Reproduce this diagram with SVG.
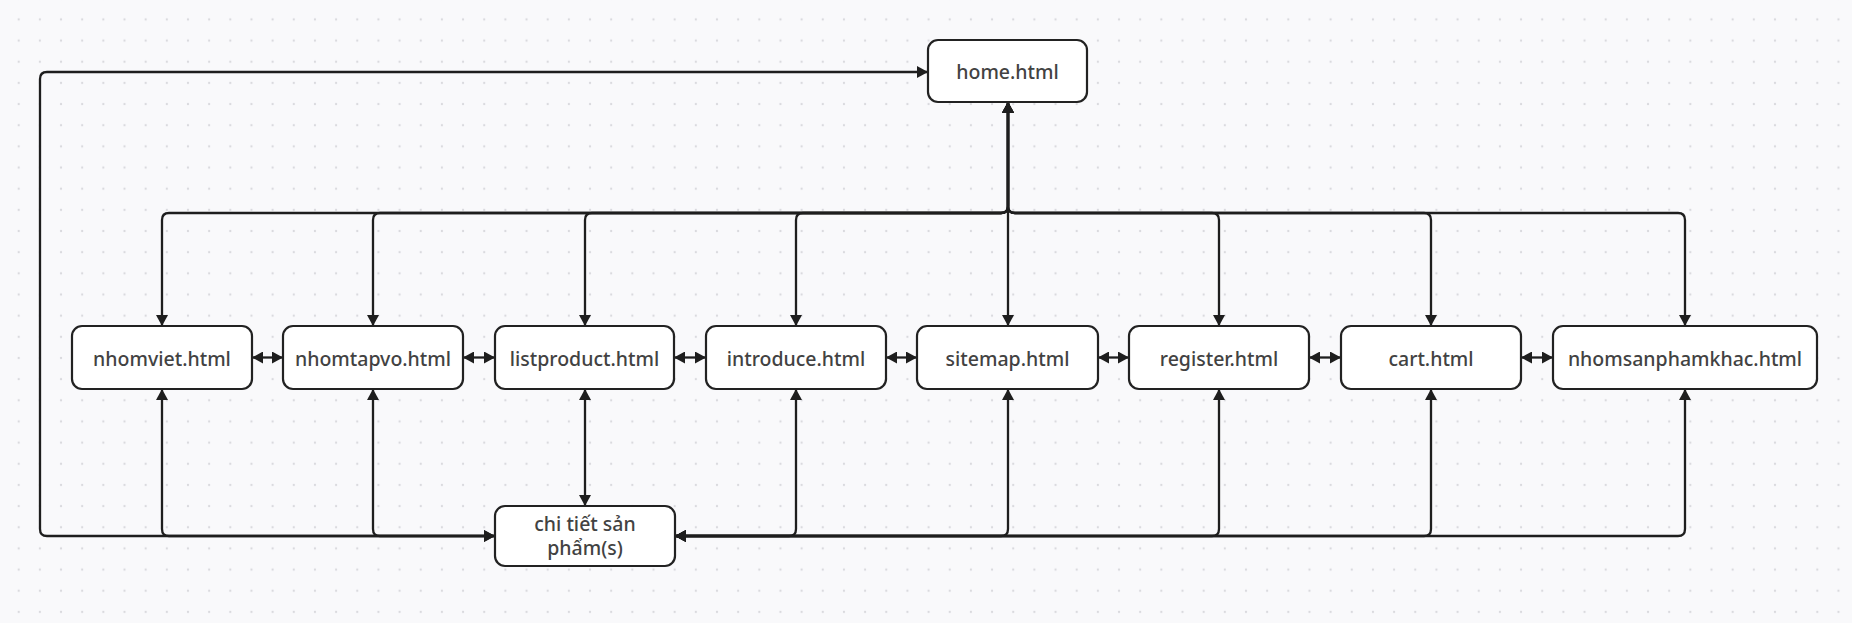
<svg xmlns="http://www.w3.org/2000/svg" width="1852" height="623" viewBox="0 0 1852 623">
  <defs>
    <pattern id="dots" x="18.7" y="19.4" width="21.16" height="21.16" patternUnits="userSpaceOnUse">
      <circle cx="0" cy="0" r="1.15" fill="#d9d9de"/>
      <circle cx="21.16" cy="0" r="1.15" fill="#d9d9de"/>
      <circle cx="0" cy="21.16" r="1.15" fill="#d9d9de"/>
      <circle cx="21.16" cy="21.16" r="1.15" fill="#d9d9de"/>
    </pattern>
    <marker id="arrow" viewBox="0 0 11 12" refX="11" refY="6" markerWidth="11" markerHeight="12" markerUnits="userSpaceOnUse" orient="auto-start-reverse">
      <path d="M0 0 L11 6 L0 12 z" fill="#1e1e1e"/>
    </marker>
    <style>
      .node rect { fill: #ffffff; stroke: #222222; stroke-width: 2.2; }
      .node text { font-family: "Noto Sans", "Open Sans", "DejaVu Sans", sans-serif; font-size: 19.5px; font-weight: 500; fill: #424242; text-anchor: middle; }
      .edge { fill: none; stroke: #1e1e1e; stroke-width: 2.3; stroke-linejoin: round; }
      .both { marker-start: url(#arrow); marker-end: url(#arrow); }
      .end { marker-end: url(#arrow); }
    </style>
  </defs>

  <!-- canvas -->
  <rect width="1852" height="623" fill="#f9f9fb"/>
  <rect width="1852" height="623" fill="url(#dots)"/>

  <!-- connectors -->
  <g id="connectors">
    <!-- home to each page (top bus) -->
    <path class="edge both" d="M1008 102 V206 Q1008 213 1001 213 H169 Q162 213 162 220 V326"/>
    <path class="edge both" d="M1008 102 V206 Q1008 213 1001 213 H380 Q373 213 373 220 V326"/>
    <path class="edge both" d="M1008 102 V206 Q1008 213 1001 213 H592 Q585 213 585 220 V326"/>
    <path class="edge both" d="M1008 102 V206 Q1008 213 1001 213 H803 Q796 213 796 220 V326"/>
    <path class="edge both" d="M1008 102 V326"/>
    <path class="edge both" d="M1008 102 V206 Q1008 213 1015 213 H1212 Q1219 213 1219 220 V326"/>
    <path class="edge both" d="M1008 102 V206 Q1008 213 1015 213 H1424 Q1431 213 1431 220 V326"/>
    <path class="edge both" d="M1008 102 V206 Q1008 213 1015 213 H1678 Q1685 213 1685 220 V326"/>

    <!-- neighbouring pages -->
    <path class="edge both" d="M252 357.5 H283"/>
    <path class="edge both" d="M463 357.5 H495"/>
    <path class="edge both" d="M674 357.5 H706"/>
    <path class="edge both" d="M886 357.5 H917"/>
    <path class="edge both" d="M1098 357.5 H1129"/>
    <path class="edge both" d="M1309 357.5 H1341"/>
    <path class="edge both" d="M1521 357.5 H1553"/>

    <!-- pages to product detail (bottom bus) -->
    <path class="edge both" d="M162 389 V529 Q162 536 169 536 H495"/>
    <path class="edge both" d="M373 389 V529 Q373 536 380 536 H495"/>
    <path class="edge both" d="M585 389 V506"/>
    <path class="edge both" d="M796 389 V529 Q796 536 789 536 H675"/>
    <path class="edge both" d="M1008 389 V529 Q1008 536 1001 536 H675"/>
    <path class="edge both" d="M1219 389 V529 Q1219 536 1212 536 H675"/>
    <path class="edge both" d="M1431 389 V529 Q1431 536 1424 536 H675"/>
    <path class="edge both" d="M1685 389 V529 Q1685 536 1678 536 H675"/>

    <!-- product detail back to home -->
    <path class="edge end" d="M495 536 H47 Q40 536 40 529 V79 Q40 72 47 72 H928"/>
  </g>

  <!-- nodes -->
  <g id="home" class="node">
    <rect x="928" y="40" width="159" height="62" rx="10"/>
    <text x="1007.5" y="79">home.html</text>
  </g>
  <g id="nhomviet" class="node">
    <rect x="72" y="326" width="180" height="63" rx="10"/>
    <text x="162" y="366">nhomviet.html</text>
  </g>
  <g id="nhomtapvo" class="node">
    <rect x="283" y="326" width="180" height="63" rx="10"/>
    <text x="373" y="366">nhomtapvo.html</text>
  </g>
  <g id="listproduct" class="node">
    <rect x="495" y="326" width="179" height="63" rx="10"/>
    <text x="584.5" y="366">listproduct.html</text>
  </g>
  <g id="introduce" class="node">
    <rect x="706" y="326" width="180" height="63" rx="10"/>
    <text x="796" y="366">introduce.html</text>
  </g>
  <g id="sitemap" class="node">
    <rect x="917" y="326" width="181" height="63" rx="10"/>
    <text x="1007.5" y="366">sitemap.html</text>
  </g>
  <g id="register" class="node">
    <rect x="1129" y="326" width="180" height="63" rx="10"/>
    <text x="1219" y="366">register.html</text>
  </g>
  <g id="cart" class="node">
    <rect x="1341" y="326" width="180" height="63" rx="10"/>
    <text x="1431" y="366">cart.html</text>
  </g>
  <g id="nhomsanphamkhac" class="node">
    <rect x="1553" y="326" width="264" height="63" rx="10"/>
    <text x="1685" y="366">nhomsanphamkhac.html</text>
  </g>
  <g id="chitietsanpham" class="node">
    <rect x="495" y="506" width="180" height="60" rx="10"/>
    <text x="585" y="530.5">chi tiết sản</text>
    <text x="585" y="555">phẩm(s)</text>
  </g>
</svg>
